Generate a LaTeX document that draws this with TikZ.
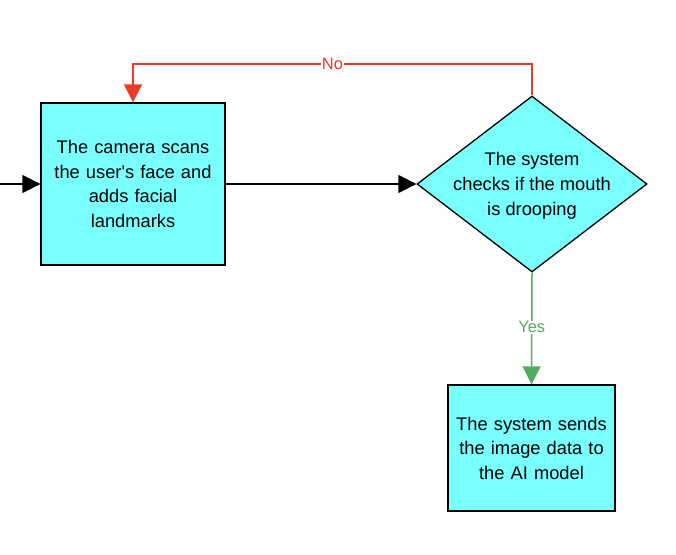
\documentclass[tikz,border=0pt]{standalone}
\usepackage{fontspec}
\setmainfont{Liberation Sans}
\usetikzlibrary{arrows.meta, shapes.geometric}
\definecolor{boxfill}{RGB}{122,255,255}
\definecolor{nored}{RGB}{236,58,40}
\definecolor{yesgreen}{RGB}{82,172,94}

\begin{document}
\begin{tikzpicture}[x=1pt, y=-1pt]
\tikzstyle{process}=[draw, fill=boxfill, line width=1.3pt, align=center, inner sep=0pt, font=\fontsize{18.3}{24.5}\selectfont]
\tikzstyle{decision}=[draw, diamond, fill=boxfill, line width=1.3pt, inner sep=0pt]
\tikzstyle{flow}=[line width=1.5pt, -{Triangle[length=18pt, width=18pt]}]
\tikzstyle{answer}=[fill=white, inner sep=1pt, font=\fontsize{16.5}{19}\selectfont]
\useasboundingbox (0,0) rectangle (676,554);

\node[process, minimum width=184pt, minimum height=162pt, text width=180pt] (scan) at (133,184) {The camera scans\\the user\textquotesingle s face and\\adds facial\\landmarks};
\node[decision, minimum width=230pt, minimum height=176pt] (check) at (532,184) {};
\node[align=center, inner sep=0pt, font=\fontsize{18.3}{25}\selectfont] (checktext) at (532,186) {The system\\checks if the mouth\\is drooping};
\node[process, minimum width=167pt, minimum height=126pt, text width=163pt] (send) at (531.5,448) {The system sends\\the image data to\\the AI model};

\coordinate (start) at (0,184);
\coordinate (top) at (0,64);

\path[flow]
(start) edge (scan)
(scan) edge (check);
\draw[flow, nored] (check.north) -- (check.north |- top) -- node[answer]{No} (scan.north |- top) -- (scan.north);
\draw[flow, yesgreen] (check.south) -- node[answer, pos=0.49]{Yes} (send.north);
\end{tikzpicture}
\end{document}
